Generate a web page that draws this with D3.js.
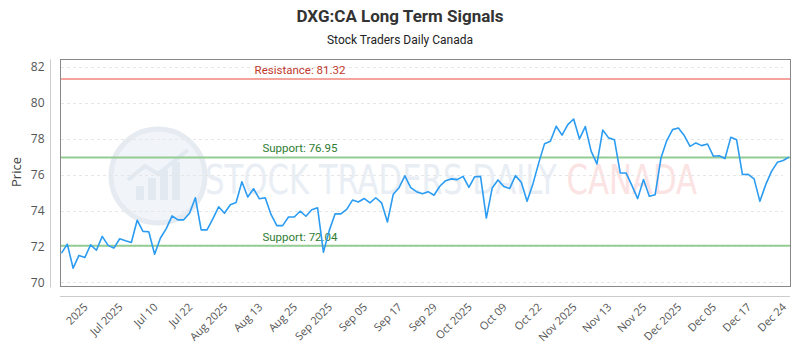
<!DOCTYPE html>
<html>
<head>
<meta charset="utf-8">
<script src="https://cdn.jsdelivr.net/npm/d3@7"></script>
<style>
  html, body { margin: 0; padding: 0; background: #fff; }
  svg { display: block; }
</style>
</head>
<body>
<svg id="chart" width="800" height="350"></svg>
<script>
const titleText = "DXG:CA Long Term Signals";
const subtitleText = "Stock Traders Daily Canada";

const prices = [
  71.63, 72.13, 70.79, 71.50, 71.38, 72.09, 71.79, 72.56, 72.06, 71.91,
  72.43, 72.32, 72.22, 73.46, 72.84, 72.82, 71.57, 72.47, 72.99, 73.70,
  73.48, 73.48, 73.85, 74.71, 72.92, 72.92, 73.53, 74.21, 73.85, 74.32,
  74.45, 75.60, 74.75, 75.21, 74.65, 74.71, 73.78, 73.16, 73.16, 73.64,
  73.64, 73.96, 73.68, 74.04, 74.15, 71.68, 72.88, 73.81, 73.81, 74.06,
  74.58, 74.47, 74.67, 74.43, 74.71, 74.43, 73.36, 74.90, 75.27, 75.93,
  75.27, 75.05, 74.93, 75.05, 74.85, 75.35, 75.66, 75.76, 75.72, 75.90,
  75.29, 75.88, 75.90, 73.58, 75.25, 75.70, 75.33, 75.22, 75.94, 75.57,
  74.51, 75.48, 76.65, 77.72, 77.85, 78.69, 78.19, 78.78, 79.09, 77.98,
  78.67, 77.30, 76.59, 78.48, 78.04, 77.94, 76.09, 76.09, 75.40, 74.66,
  75.72, 74.79, 74.88, 76.92, 77.89, 78.50, 78.59, 78.17, 77.57, 77.76,
  77.61, 77.70, 77.02, 77.05, 76.89, 78.07, 77.93, 76.00, 76.01, 75.76,
  74.51, 75.44, 76.18, 76.68, 76.78, 76.97
];

const tickLabels = ["2025", "Jul 2025", "Jul 10", "Jul 22", "Aug 2025", "Aug 13", "Aug 25",
  "Sep 2025", "Sep 05", "Sep 17", "Sep 29", "Oct 2025", "Oct 09", "Oct 22", "Nov 2025",
  "Nov 13", "Nov 25", "Dec 2025", "Dec 05", "Dec 17", "Dec 24"];
const tickIndex = [4, 10, 16, 22, 28, 34, 40, 46, 52, 58, 64, 70, 76, 82, 88, 94, 100, 106, 112, 118, 124];

const yTicks = [70, 72, 74, 76, 78, 80, 82];

const levelNames = ["Resistance", "Support", "Support"];
const levelValues = [81.32, 76.95, 72.04];
const levelLineColors = ["#f4a39d", "#94cc94", "#94cc94"];
const levelTextColors = ["#c0392b", "#2e7d32", "#2e7d32"];

const svg = d3.select("#chart");
const font = "Roboto, 'Open Sans', sans-serif";

const box = { left: 60, top: 59.5, right: 790, bottom: 286.5 };

const x = d3.scaleLinear().domain([0, prices.length - 1]).range([61.5, 789]);
const y = d3.scaleLinear().domain([70, 82]).range([282.4, 66.7]);

// Title
svg.append("text").attr("x", 400).attr("y", 22).attr("text-anchor", "middle")
  .style("font-family", font).style("font-weight", "bold").style("font-size", "17px")
  .style("fill", "#333").text(titleText);
svg.append("text").attr("x", 400).attr("y", 44).attr("text-anchor", "middle")
  .style("font-family", font).style("font-size", "12px")
  .style("fill", "#222").text(subtitleText);

// Watermark
const wm = svg.append("g");
wm.append("circle").attr("cx", 158).attr("cy", 176).attr("r", 47)
  .attr("fill", "#f1f4f8").attr("stroke", "#e6ebf2").attr("stroke-width", 5);
const wmBars = [14, 22, 30, 38];
wmBars.forEach((h, i) => {
  wm.append("rect").attr("x", 136 + i * 12).attr("y", 200 - h).attr("width", 8).attr("height", h)
    .attr("fill", "#e3e9f1");
});
wm.append("path").attr("d", "M128,180 L145,166 L158,174 L188,150")
  .attr("fill", "none").attr("stroke", "#e3e9f1").attr("stroke-width", 4);
const wmText = wm.append("text").attr("x", 0).attr("y", 0)
  .style("font-family", "'DejaVu Sans Condensed', 'DejaVu Sans', sans-serif")
  .style("font-size", "40px");
wmText.append("tspan").style("fill", "#e9eef5").text("STOCK TRADERS DAILY ");
wmText.append("tspan").style("fill", "#fbe3e3").text("CANADA");
const wmLen = wmText.node().getComputedTextLength() || 492;
wmText.attr("transform", `translate(205,194) scale(${492 / wmLen},1)`);

// Gridlines
svg.append("g").selectAll("line").data(yTicks).join("line")
  .attr("x1", box.left + 1).attr("x2", 783)
  .attr("y1", d => Math.round(y(d)) + 0.5).attr("y2", d => Math.round(y(d)) + 0.5)
  .attr("stroke", "#e6e6e6").attr("stroke-dasharray", "3,3");

// Plot border
svg.append("rect").attr("x", box.left + 0.5).attr("y", box.top)
  .attr("width", box.right - box.left).attr("height", box.bottom - box.top)
  .attr("fill", "none").attr("stroke", "#888").attr("stroke-width", 1);

// Y axis
const yAxis = d3.axisLeft(y).tickValues(yTicks).tickSize(0).tickPadding(6);
const yg = svg.append("g").attr("transform", "translate(50.5,0)").call(yAxis);
yg.select(".domain").attr("stroke", "#ccc").attr("d", `M0,${box.top}V${box.bottom + 1}`);
yg.selectAll("text").style("font-family", "'Open Sans', sans-serif").style("font-size", "12px").style("fill", "#555");

svg.append("text").attr("transform", "translate(21,172) rotate(-90)").attr("text-anchor", "middle")
  .style("font-family", "'Open Sans', sans-serif").style("font-size", "13px").style("fill", "#444").text("Price");

// X axis
svg.append("line").attr("x1", box.left).attr("x2", box.right).attr("y1", 296.5).attr("y2", 296.5)
  .attr("stroke", "#ccc");
const xg = svg.append("g");
xg.selectAll("text").data(tickIndex).join("text")
  .attr("transform", d => `translate(${x(d) + 1},${305}) rotate(-45)`)
  .attr("text-anchor", "end").attr("dy", "0.35em")
  .style("font-family", "'Open Sans', sans-serif").style("font-size", "11px").style("fill", "#555")
  .text((d, i) => tickLabels[i]);

// Level lines
levelValues.forEach((v, i) => {
  svg.append("line").attr("x1", box.left + 1).attr("x2", box.right)
    .attr("y1", y(v)).attr("y2", y(v))
    .attr("stroke", levelLineColors[i]).attr("stroke-width", 2);
  svg.append("text").attr("x", 300).attr("y", y(v) - 5).attr("text-anchor", "middle")
    .style("font-family", font).style("font-size", "11.5px").style("fill", levelTextColors[i])
    .text(`${levelNames[i]}: ${v.toFixed(2)}`);
});

// Price line
const line = d3.line().x((d, i) => x(i)).y(d => y(d));
svg.append("path").datum(prices).attr("d", line)
  .attr("fill", "none").attr("stroke", "#2b9cf2").attr("stroke-width", 1.6)
  .attr("stroke-linejoin", "round");
</script>
</body>
</html>
